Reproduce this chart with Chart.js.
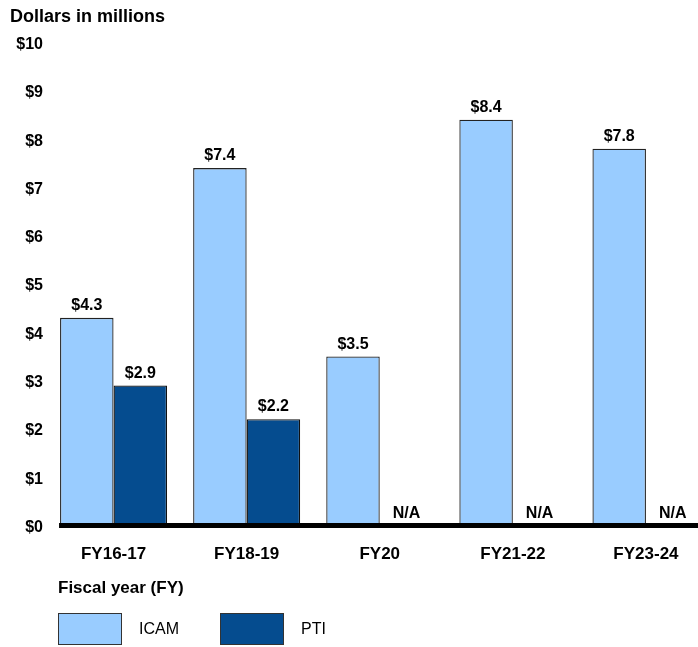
<!DOCTYPE html>
<html>
<head>
<meta charset="utf-8">
<script src="https://cdn.jsdelivr.net/npm/chart.js@4.4.1/dist/chart.umd.min.js"></script>
<style>
  html, body { margin: 0; padding: 0; background: #fff; overflow: hidden; }
  #wrap { position: relative; width: 698px; height: 647px; overflow: hidden; font-family: "Liberation Sans", Arial, sans-serif; }
  #chartMain { position: absolute; left: 0; top: 0; }
  #axisTitle { position: absolute; left: 58px; top: 578px; font-size: 17px; font-weight: bold; line-height: 20px; color: #000; }
  #legendBox { position: absolute; left: 58px; top: 613px; display: flex; align-items: center; }
  .lg-item { display: flex; align-items: center; margin-right: 41px; }
  .lg-swatch { width: 64px; height: 32px; box-sizing: border-box; border: 1.5px solid #333; margin-right: 17px; }
  .lg-text { font-size: 16px; color: #000; }
</style>
</head>
<body>
<div id="wrap">
  <canvas id="chartMain" width="720" height="647"></canvas>
  <div id="axisTitle">Fiscal year (FY)</div>
  <div id="legendBox"></div>
</div>
<script>
// data
const categories = ['FY16-17', 'FY18-19', 'FY20', 'FY21-22', 'FY23-24'];
const icamValues = [4.3, 7.4, 3.5, 8.4, 7.8];
const ptiValues = [2.9, 2.2, null, null, null];
const seriesNames = ['ICAM', 'PTI'];
const seriesColors = ['#99CCFF', '#054C8F'];
const yMin = 0, yMax = 10, yStep = 1;

const FONT = '"Liberation Sans", Arial, sans-serif';

window.onload = function(){
  drawMainChart();
}

//-----value labels + baseline
const barLabels = {
  id: 'barLabels',
  afterDatasetsDraw(chart) {
    const ctx = chart.ctx;
    const yScale = chart.scales.y;
    const zero = yScale.getPixelForValue(0);
    ctx.save();
    ctx.font = 'bold 16px ' + FONT;
    ctx.fillStyle = '#000';
    ctx.textAlign = 'center';
    ctx.textBaseline = 'alphabetic';
    chart.data.datasets.forEach(function(ds, di){
      const meta = chart.getDatasetMeta(di);
      meta.data.forEach(function(bar, i){
        const v = ds.data[i];
        if (v == null) {
          ctx.fillText('N/A', bar.x, zero - 8);
        } else {
          ctx.fillText('$' + v.toFixed(1), bar.x, bar.y - 8);
        }
      });
    });
    // thick baseline
    const first = chart.getDatasetMeta(0).data[0];
    ctx.beginPath();
    ctx.strokeStyle = '#000';
    ctx.lineWidth = 5;
    ctx.moveTo(first.x - first.width / 2 - 1, zero);
    ctx.lineTo(chart.chartArea.right, zero);
    ctx.stroke();
    ctx.restore();
  }
};

let chart1;
function drawMainChart(){
  const ctx = document.getElementById('chartMain').getContext('2d');
  if (chart1) {
    chart1.destroy();
  }
  chart1 = new Chart(ctx, {
    type: 'bar',
    data: {
      labels: categories,
      datasets: [
        { label: seriesNames[0], data: icamValues, backgroundColor: seriesColors[0], borderColor: '#222', borderWidth: 1.3 },
        { label: seriesNames[1], data: ptiValues, backgroundColor: seriesColors[1], borderColor: '#111', borderWidth: 1.3 }
      ]
    },
    plugins: [barLabels],
    options: {
      responsive: false,
      animation: false,
      layout: { padding: { left: 10, right: 7.5, top: 0, bottom: 63 } },
      datasets: { bar: { categoryPercentage: 0.804, barPercentage: 1 } },
      plugins: {
        legend: { display: false },
        tooltip: { enabled: false },
        title: {
          display: true,
          text: 'Dollars in millions',
          align: 'start',
          color: '#000',
          font: { family: FONT, size: 18, weight: 'bold' },
          padding: { top: 6, bottom: 14.9 }
        }
      },
      scales: {
        x: {
          grid: { display: false, drawTicks: false },
          border: { display: false },
          ticks: { color: '#000', padding: 19, font: { family: FONT, size: 17, weight: 'bold' } }
        },
        y: {
          min: yMin,
          max: yMax,
          grid: { display: false, drawTicks: false },
          border: { display: false },
          afterFit: function(scale){ scale.width = 37; },
          ticks: {
            stepSize: yStep,
            color: '#000',
            padding: 4,
            labelOffset: 2,
            font: { family: FONT, size: 16, weight: 'bold' },
            callback: function(v){ return '$' + v; }
          }
        }
      }
    }
  });
  buildLegend(chart1);
}

//-----LEGEND
function buildLegend(chart){
  const box = document.getElementById('legendBox');
  box.innerHTML = '';
  chart.data.datasets.forEach(function(ds){
    const item = document.createElement('div');
    item.className = 'lg-item';
    const sw = document.createElement('span');
    sw.className = 'lg-swatch';
    sw.style.background = ds.backgroundColor;
    const tx = document.createElement('span');
    tx.className = 'lg-text';
    tx.textContent = ds.label;
    item.appendChild(sw);
    item.appendChild(tx);
    box.appendChild(item);
  });
}
</script>
</body>
</html>
